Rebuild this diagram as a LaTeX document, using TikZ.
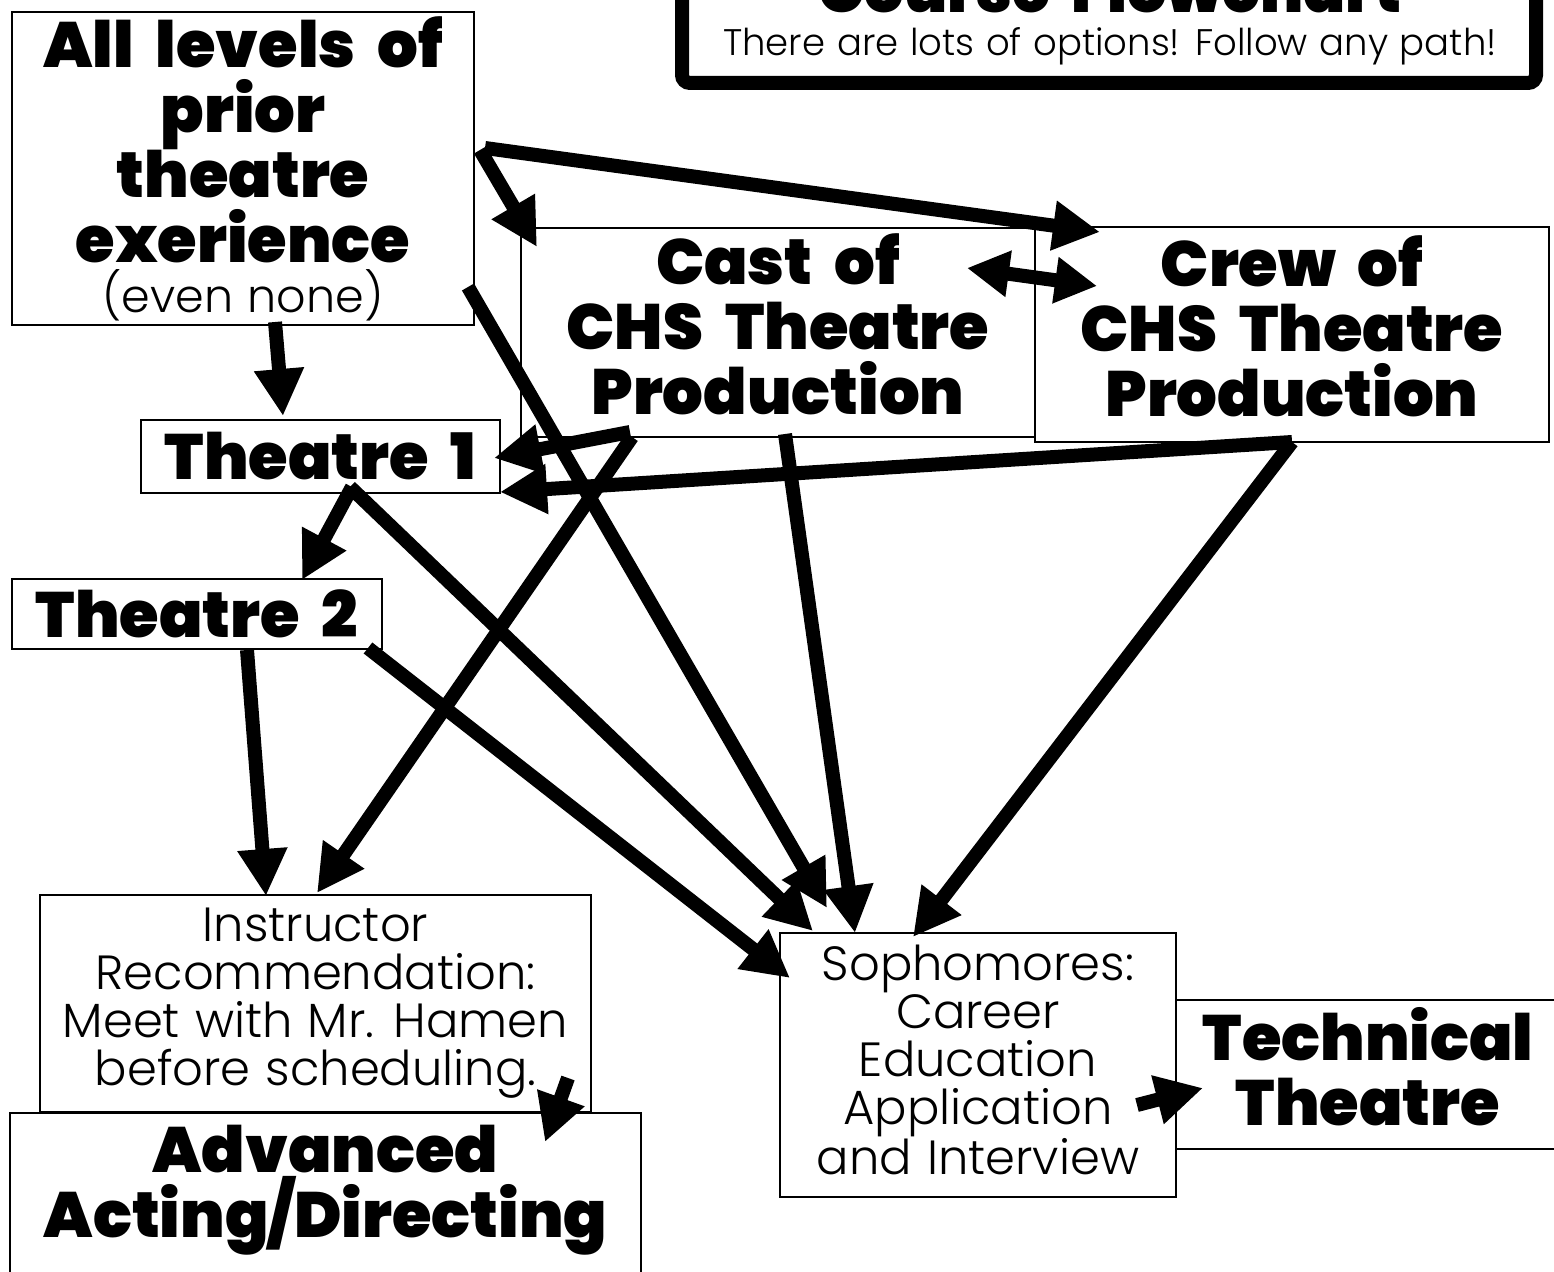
\documentclass[tikz,border=0pt]{standalone}
\usepackage{fontspec}
\setmainfont{Poppins Light}
\newfontfamily\heavy{Poppins Black}[WordSpace=2]
\newfontfamily\light{Poppins Light}[WordSpace=1.15]
\usetikzlibrary{arrows.meta,calc}
\tikzset{
 box/.style={draw, line width=1.5pt, fill=white, inner sep=0pt, outer sep=0pt, align=center},
 hv/.style={font=\heavy\fontsize{64}{65}\selectfont, align=center, inner sep=0pt},
 lt/.style={font=\light\fontsize{48}{48}\selectfont, align=center, inner sep=0pt},
 arr/.style={line width=14pt, -{Triangle[length=47pt,width=47pt]}},
 darr/.style={line width=14pt, {Triangle[length=42pt,width=44pt]}-{Triangle[length=42pt,width=44pt]}},
}
\begin{document}
\begin{tikzpicture}[x=1pt,y=-1pt]
\useasboundingbox (0,0) rectangle (1554,1271);
\clip (0,0) rectangle (1554,1271);
\fill[white] (0,0) rectangle (1554,1271);
% title
\node[draw, line width=14pt, rounded corners=8pt, minimum width=854pt, minimum height=233pt, inner sep=0pt, outer sep=0pt] (titlebox) at (1109,-33.5) {};
\node[anchor=base, font=\heavy\fontsize{62}{62}\selectfont] (title) at (1110,13) {Course Flowchart};
\node[anchor=base, font=\light\fontsize{37}{40}\selectfont] (sub) at (1110,56) {There are lots of options! Follow any path!};
% boxes
\node[box, hv, minimum width=462pt, minimum height=313pt] (all) at (243,168.5) {All levels of\\prior\\theatre\\exerience\\[-15pt]{\light\fontsize{46}{46}\selectfont (even none)}};
\node[box, minimum width=514pt, minimum height=209pt] (cast) at (778,332.5) {};
\node[hv] (casttext) at (778,324) {Cast of\\CHS Theatre\\Production};
\node[box, minimum width=514pt, minimum height=215pt] (crew) at (1292,334.5) {};
\node[hv] (crewtext) at (1292,326.5) {Crew of\\CHS Theatre\\Production};
\node[box, hv, minimum width=359pt, minimum height=73pt] (t1) at (320.5,456.5) {Theatre 1};
\node[box, hv, minimum width=370pt, minimum height=70pt] (t2) at (197,614) {Theatre 2};
\node[box, lt, minimum width=551pt, minimum height=217pt] (instr) at (315.5,1003.5) {Instructor\\Recommendation:\\Meet with Mr. Hamen\\before scheduling.};
\node[box, minimum width=631pt, minimum height=177pt] (adv) at (325.5,1201.5) {};
\node[hv] (advtext) at (325.5,1190) {Advanced\\Acting/Directing};
\node[box, minimum width=384pt, minimum height=149pt] (tech) at (1368,1074.5) {};
\node[hv] (techtext) at (1368,1066.5) {Technical\\Theatre};
\node[box, minimum width=396pt, minimum height=264pt] (soph) at (978,1065) {};
\node[lt] (sophtext) at (978,1060) {Sophomores:\\Career\\Education\\Application\\and Interview};
% arrows
\draw[arr] ($(all.north east)+(6,138)$) -- ($(cast.north west)+(16,19)$);
\draw[arr] ($(all.north east)+(11,136)$) -- ($(crew.north west)+(65,5)$);
\draw[darr] ($(cast.north west)+(446,40)$) -- ($(crew.north west)+(62,59)$);
\draw[arr] ($(all.south west)+(263,-3)$) -- ($(t1.north west)+(142,-4)$);
\draw[arr] ($(all.south east)+(-6,-38)$) -- ($(soph.north west)+(47,-25)$);
\draw[arr] ($(cast.south west)+(109,-5)$) -- ($(t1.north east)+(-6,38)$);
\draw[arr] ($(cast.south west)+(111,0)$) -- ($(instr.north west)+(277,-2)$);
\draw[arr] ($(cast.south west)+(264,-3)$) -- ($(soph.north west)+(75,0)$);
\draw[arr] ($(crew.south west)+(257,0)$) -- ($(t1.south east)+(0,-1)$);
\draw[arr] ($(crew.south west)+(257,0)$) -- ($(soph.north west)+(133,4)$);
\draw[arr] ($(t1.south west)+(211,-6)$) -- ($(t2.north west)+(290,1)$);
\draw[arr] ($(t1.south west)+(209,-6)$) -- ($(soph.north west)+(33,-2)$);
\draw[arr] ($(t2.south west)+(235,1)$) -- ($(instr.north west)+(226,1)$);
\draw[arr] ($(t2.south east)+(-14,-1)$) -- ($(soph.north west)+(10,45)$);
\draw[arr] ($(instr.south east)+(-23,-34)$) -- ($(adv.north west)+(535,29)$);
\draw[arr] ($(soph.south east)+(-39,-92)$) -- ($(tech.south west)+(27,-61)$);
\end{tikzpicture}
\end{document}
